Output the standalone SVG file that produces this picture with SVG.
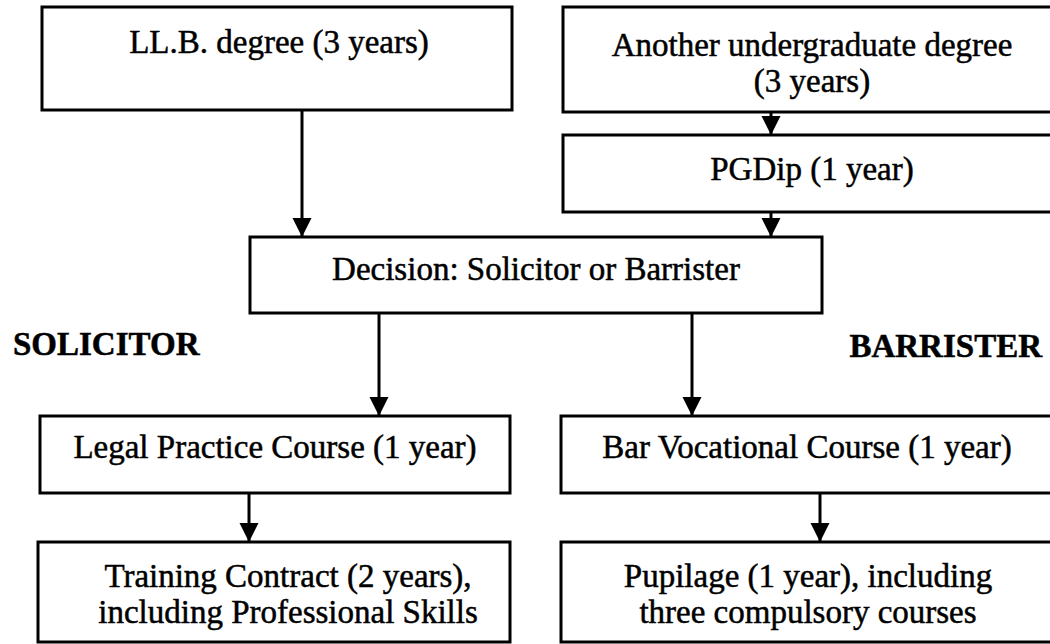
<svg xmlns="http://www.w3.org/2000/svg" width="1050" height="644" viewBox="0 0 1050 644">
  <style>
    .box { fill: #fff; stroke: #000; stroke-width: 3; }
    .t { font-family: "Liberation Serif", "Times New Roman", serif; font-size: 33px; fill: #000; stroke: #000; stroke-width: 0.5; text-anchor: middle; }
    .h { font-family: "Liberation Serif", "Times New Roman", serif; font-size: 33px; font-weight: bold; fill: #000; stroke: #000; stroke-width: 0.5; }
    .c { stroke: #000; stroke-width: 3; fill: none; marker-end: url(#ah); }
  </style>
  <defs>
    <marker id="ah" markerWidth="20" markerHeight="20" refX="19" refY="9.5" orient="auto" markerUnits="userSpaceOnUse">
      <path d="M0,0 L19,9.5 L0,19 z" fill="#000"/>
    </marker>
  </defs>
  <rect width="1050" height="644" fill="#fff"/>

  <g id="connectors">
    <line class="c" x1="302" y1="110" x2="302" y2="237"/>
    <line class="c" x1="771" y1="112" x2="771" y2="135"/>
    <line class="c" x1="771" y1="212" x2="771" y2="237"/>
    <line class="c" x1="379" y1="313" x2="379" y2="416"/>
    <line class="c" x1="692" y1="313" x2="692" y2="416"/>
    <line class="c" x1="249" y1="493" x2="249" y2="542"/>
    <line class="c" x1="820" y1="493" x2="820" y2="542"/>
  </g>

  <g id="llb">
    <rect class="box" x="42" y="7" width="470" height="103"/>
    <text class="t" x="279" y="53">LL.B. degree (3 years)</text>
  </g>
  <g id="another">
    <rect class="box" x="563" y="7" width="500" height="105"/>
    <text class="t" x="812" y="56">Another undergraduate degree</text>
    <text class="t" x="812" y="92">(3 years)</text>
  </g>
  <g id="pgdip">
    <rect class="box" x="563" y="135" width="500" height="77"/>
    <text class="t" x="812" y="180">PGDip (1 year)</text>
  </g>
  <g id="decision">
    <rect class="box" x="250" y="237" width="572" height="76"/>
    <text class="t" x="536" y="280">Decision: Solicitor or Barrister</text>
  </g>
  <g id="solicitor-label">
    <text class="h" x="13" y="355">SOLICITOR</text>
  </g>
  <g id="barrister-label">
    <text class="h" x="1042" y="357" text-anchor="end">BARRISTER</text>
  </g>
  <g id="lpc">
    <rect class="box" x="40" y="416" width="470" height="77"/>
    <text class="t" x="275" y="458">Legal Practice Course (1 year)</text>
  </g>
  <g id="bvc">
    <rect class="box" x="561" y="416" width="502" height="77"/>
    <text class="t" x="807" y="458">Bar Vocational Course (1 year)</text>
  </g>
  <g id="training">
    <rect class="box" x="38" y="542" width="472" height="100"/>
    <text class="t" x="288" y="587">Training Contract (2 years),</text>
    <text class="t" x="288" y="623">including Professional Skills</text>
  </g>
  <g id="pupilage">
    <rect class="box" x="561" y="542" width="502" height="100"/>
    <text class="t" x="808" y="587">Pupilage (1 year), including</text>
    <text class="t" x="808" y="623">three compulsory courses</text>
  </g>
</svg>
